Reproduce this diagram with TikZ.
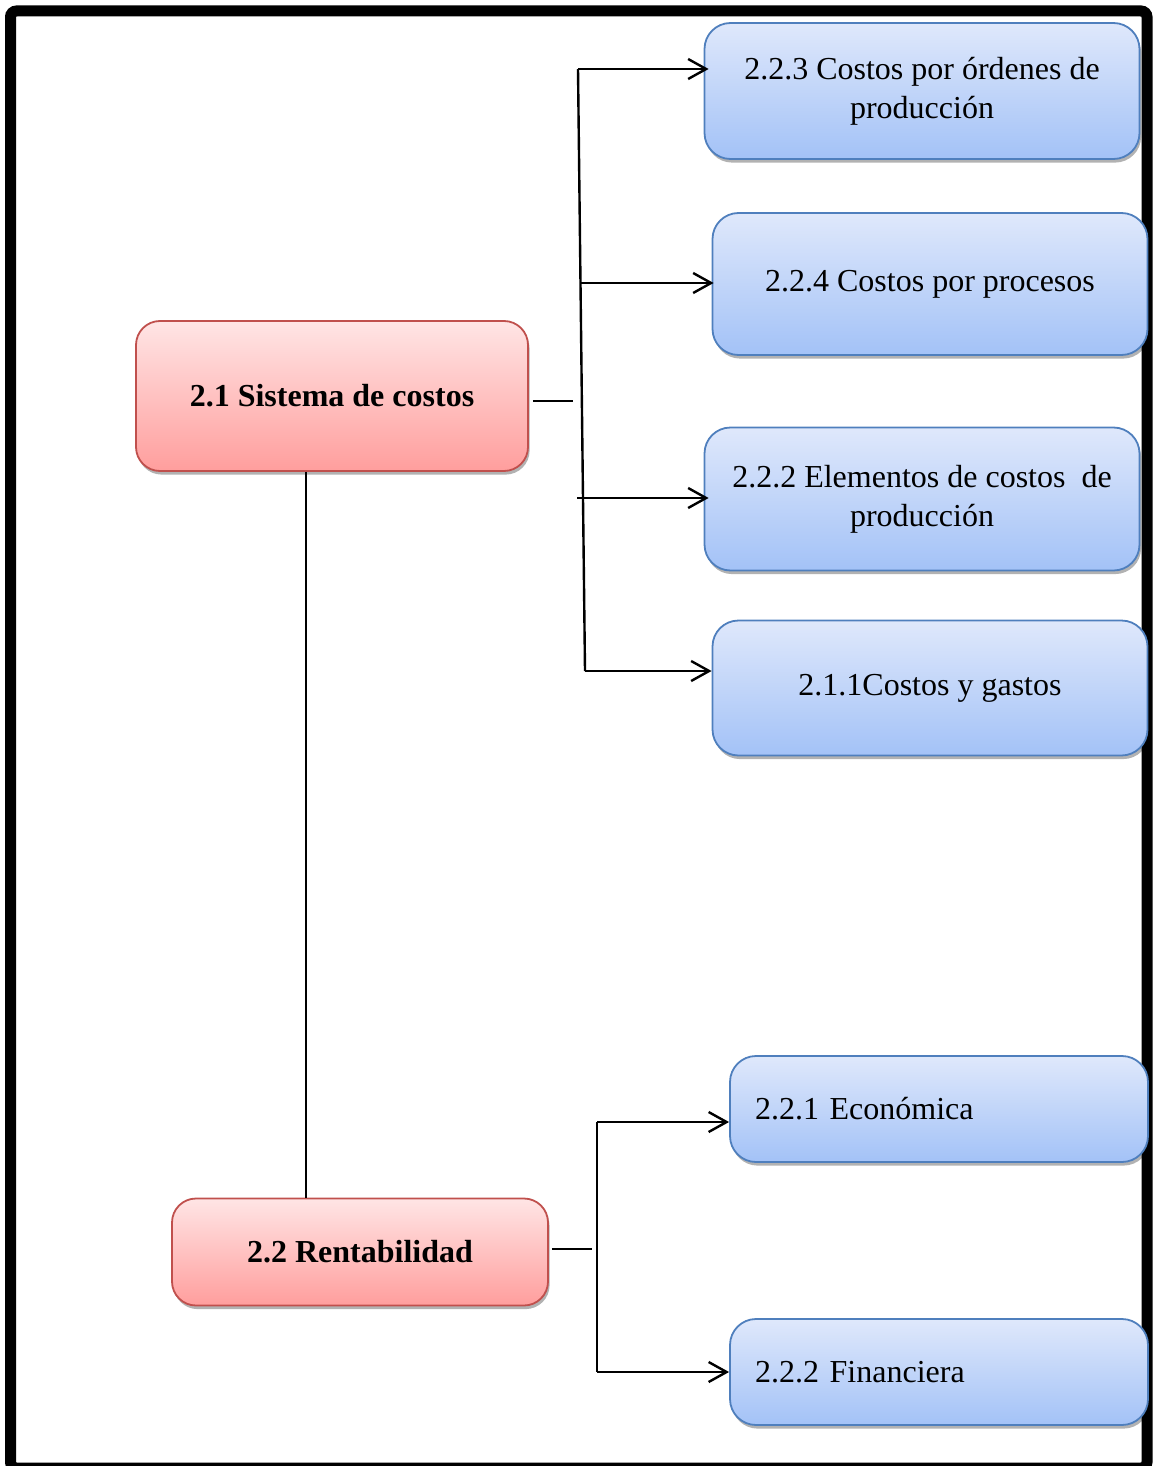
\documentclass[tikz,border=0pt]{standalone}
\usepackage{fontspec}
\setmainfont{Liberation Serif}
\usetikzlibrary{positioning,shadows,arrows.meta}

\definecolor{bordeazul}{HTML}{4F7FBD}
\definecolor{azularriba}{HTML}{DFE8FB}
\definecolor{azulabajo}{HTML}{A3C2F7}
\definecolor{borderojo}{HTML}{C0504D}
\definecolor{rojoarriba}{HTML}{FFE5E5}
\definecolor{rojoabajo}{HTML}{FF9E9D}

\begin{document}
\begin{tikzpicture}[x=0.5pt,y=-0.5pt,>={Straight Barb[length=9pt,width=10pt]},line width=1.2pt,
    sombra/.style={drop shadow={shadow xshift=0.8pt,shadow yshift=-1.8pt,opacity=0.3,fill=black}},
    tema/.style={sombra,rounded corners=12pt,draw=borderojo,line width=0.9pt,top color=rojoarriba,bottom color=rojoabajo,font=\bfseries\fontsize{16}{19.5}\selectfont,align=center},
    sub/.style={sombra,rounded corners=13pt,draw=bordeazul,line width=0.9pt,top color=azularriba,bottom color=azulabajo,font=\fontsize{16}{19.5}\selectfont,align=center,minimum width=217.5pt},
    subizq/.style={sub,align=left,minimum width=0pt,text width=184pt,inner xsep=12.5pt,minimum height=53pt}]
    \useasboundingbox (0,0) rectangle (1152,1466);
    \draw[line width=5.5pt,rounded corners=3pt] (10.5,11) rectangle (1147,1468);

    % temas
    \node[tema,minimum width=196pt,minimum height=75pt] (s21) at (332,396) {2.1 Sistema de costos};
    \node[tema,minimum width=188pt,minimum height=53.5pt] (r22) [below of=s21,node distance=428pt,xshift=14pt] {2.2 Rentabilidad};

    % subtemas
    \node[sub,minimum height=68pt] (b223) at (922,91) {2.2.3 Costos por órdenes de\\producción};
    \node[sub,minimum height=71pt] (b224) [below of=b223,node distance=96.5pt,xshift=4pt] {2.2.4 Costos por procesos};
    \node[sub,minimum height=71.5pt] (b222e) [below of=b224,node distance=107.5pt,xshift=-4pt] {2.2.2 Elementos de costos~ de\\producción};
    \node[sub,minimum height=67.5pt] (b211) [below of=b222e,node distance=94.5pt,xshift=4pt] {2.1.1Costos y gastos};
    \node[subizq] (b221) at (939,1109) {2.2.1 Económica};
    \node[subizq] (b222f) [below of=b221,node distance=131.5pt] {2.2.2 Financiera};

    \coordinate (n1) at (573,401);
    \coordinate (n2) at (592,1249);
    \coordinate (v) at (306,0);
    \coordinate (e1) at (578,69);
    \coordinate (e2) at (580,283);
    \coordinate (e3) at (577,498);
    \coordinate (e4) at (585,671);
    \coordinate (f1) at (597,1122);
    \coordinate (f2) at (597,1372);

    \draw ([xshift=2pt]s21.east |- n1) -- (n1);
    \draw (s21.south -| v) -- (r22.north -| v);
    \draw (e1) -- (e4);
    \draw[->,shorten >=-2.5pt] (e1) -- (e1 -| b223.west);
    \draw[->,shorten >=-1pt] (e2) -- (e2 -| b224.west);
    \draw[->,shorten >=-2.5pt] (e3) -- (e3 -| b222e.west);
    \draw[->] (e4) -- (e4 -| b211.west);

    \draw ([xshift=1.5pt]r22.east |- n2) -- (n2);
    \draw (f1) -- (f2);
    \draw[->] (f1) -- (f1 -| b221.west);
    \draw[->] (f2) -- (f2 -| b222f.west);
\end{tikzpicture}
\end{document}
